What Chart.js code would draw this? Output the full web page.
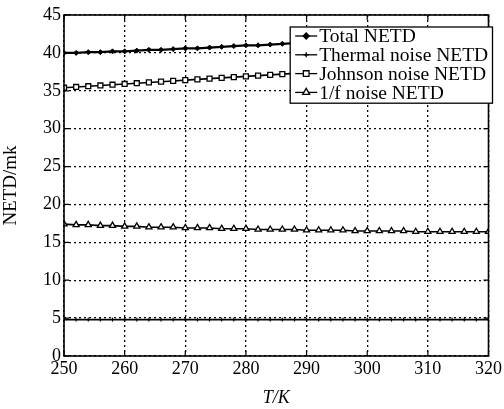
<!DOCTYPE html>
<html>
<head>
<meta charset="utf-8">
<script src="https://cdn.jsdelivr.net/npm/chart.js@4/dist/chart.umd.min.js"></script>
<style>
  html, body { margin: 0; padding: 0; background: #fff; }
  #wrap { width: 504px; height: 409px; }
</style>
</head>
<body>
<div id="wrap"><canvas id="netdChart" width="504" height="409"></canvas></div>
<script>
// temperature samples (K)
const temps = [250, 252, 254, 256, 258, 260, 262, 264, 266, 268, 270, 272,
    274, 276, 278, 280, 282, 284, 286, 288, 290, 292, 294, 296,
    298, 300, 302, 304, 306, 308, 310, 312, 314, 316, 318, 320];

// NETD values (mK)
const totalNetd = [40.0, 40.0, 40.1, 40.1, 40.2, 40.2, 40.3, 40.4, 40.4, 40.5, 40.6, 40.6,
    40.7, 40.8, 40.9, 41.0, 41.0, 41.1, 41.2, 41.3, 41.4, 41.5, 41.6, 41.7,
    41.8, 41.9, 42.0, 42.1, 42.2, 42.3, 42.4, 42.5, 42.6, 42.7, 42.8, 42.9];
const thermalNetd = [4.8, 4.8, 4.8, 4.8, 4.8, 4.8, 4.8, 4.8, 4.8, 4.8, 4.8, 4.8,
    4.8, 4.8, 4.8, 4.8, 4.8, 4.8, 4.8, 4.8, 4.8, 4.8, 4.8, 4.8,
    4.8, 4.8, 4.8, 4.8, 4.8, 4.8, 4.8, 4.8, 4.8, 4.8, 4.8, 4.8];
const johnsonNetd = [35.4, 35.5, 35.6, 35.7, 35.8, 35.9, 36.0, 36.1, 36.2, 36.3, 36.4, 36.5,
    36.6, 36.7, 36.8, 36.9, 37.0, 37.1, 37.2, 37.3, 37.4, 37.5, 37.6, 37.7,
    37.8, 37.9, 37.9, 38.0, 38.1, 38.2, 38.3, 38.4, 38.5, 38.5, 38.6, 38.7];
const flickerNetd = [17.4, 17.3, 17.3, 17.2, 17.2, 17.1, 17.1, 17.0, 17.0, 17.0, 16.9, 16.9,
    16.9, 16.8, 16.8, 16.8, 16.7, 16.7, 16.7, 16.7, 16.6, 16.6, 16.6, 16.6,
    16.5, 16.5, 16.5, 16.5, 16.5, 16.4, 16.4, 16.4, 16.4, 16.4, 16.4, 16.4];

const seriesLabels = ['Total NETD', 'Thermal noise NETD', 'Johnson noise NETD', '1/f noise NETD'];

const serif = '"Liberation Serif", "DejaVu Serif", serif';

function toPoints(values) {
    return temps.map((t, i) => ({ x: t, y: values[i] }));
}

// frame, inner ticks and the boxed legend
const framePlugin = {
    id: 'frame',
    afterDatasetsDraw(chart) {
        const ctx = chart.ctx;
        const area = chart.chartArea;
        const xs = chart.scales.x;
        const ys = chart.scales.y;
        ctx.save();
        ctx.strokeStyle = '#000';
        ctx.lineWidth = 1.6;
        ctx.strokeRect(area.left, area.top, area.right - area.left, area.bottom - area.top);

        ctx.lineWidth = 1.2;
        ctx.beginPath();
        xs.ticks.forEach(t => {
            const px = xs.getPixelForValue(t.value);
            ctx.moveTo(px, area.bottom); ctx.lineTo(px, area.bottom - 5);
            ctx.moveTo(px, area.top); ctx.lineTo(px, area.top + 5);
        });
        ys.ticks.forEach(t => {
            const py = ys.getPixelForValue(t.value);
            ctx.moveTo(area.left, py); ctx.lineTo(area.left + 5, py);
            ctx.moveTo(area.right, py); ctx.lineTo(area.right - 5, py);
        });
        ctx.stroke();

        // legend box
        const boxX = xs.getPixelForValue(287.3);
        const boxY = area.top + 12;
        const boxW = area.right + 4 - boxX;
        const rowH = 18.8;
        const boxH = rowH * seriesLabels.length + 1;
        ctx.fillStyle = '#fff';
        ctx.fillRect(boxX, boxY, boxW, boxH);
        ctx.lineWidth = 1.3;
        ctx.strokeRect(boxX, boxY, boxW, boxH);

        ctx.font = '19.5px ' + serif;
        ctx.textBaseline = 'middle';
        ctx.textAlign = 'left';
        chart.data.datasets.forEach((ds, i) => {
            const cy = boxY + 9 + i * rowH;
            ctx.strokeStyle = '#000';
            ctx.lineWidth = 1.3;
            ctx.beginPath();
            ctx.moveTo(boxX + 5, cy); ctx.lineTo(boxX + 27, cy);
            ctx.stroke();
            ctx.fillStyle = ds.backgroundColor;
            Chart.helpers.drawPoint(ctx, {
                pointStyle: ds.pointStyle,
                radius: ds.pointRadius + 0.5,
                borderWidth: 1.3
            }, boxX + 16, cy);
            ctx.fillStyle = '#000';
            ctx.fillText(ds.label, boxX + 29, cy + 1);
        });
        ctx.restore();
    }
};

const ctx = document.getElementById('netdChart').getContext('2d');
new Chart(ctx, {
    type: 'line',
    data: {
        datasets: [{
            label: seriesLabels[0],
            data: toPoints(totalNetd),
            borderColor: '#000',
            backgroundColor: '#000',
            borderWidth: 2.2,
            pointStyle: 'rectRot',
            pointRadius: 2.5,
            pointBorderWidth: 1
        }, {
            label: seriesLabels[1],
            data: toPoints(thermalNetd),
            borderColor: '#000',
            backgroundColor: '#000',
            borderWidth: 1.6,
            pointStyle: 'cross',
            pointRadius: 2,
            pointBorderWidth: 1
        }, {
            label: seriesLabels[2],
            data: toPoints(johnsonNetd),
            borderColor: '#000',
            backgroundColor: '#fff',
            borderWidth: 1.6,
            pointStyle: 'rect',
            pointRadius: 3.5,
            pointBorderWidth: 1.3
        }, {
            label: seriesLabels[3],
            data: toPoints(flickerNetd),
            borderColor: '#000',
            backgroundColor: '#fff',
            borderWidth: 1.6,
            pointStyle: 'triangle',
            pointRadius: 3.5,
            pointBorderWidth: 1.3
        }]
    },
    options: {
        responsive: false,
        animation: false,
        layout: { padding: { top: 15, right: 12, left: 0, bottom: 0 } },
        plugins: {
            legend: { display: false },
            tooltip: { enabled: false }
        },
        scales: {
            x: {
                type: 'linear',
                min: 250,
                max: 320,
                ticks: {
                    stepSize: 10,
                    color: '#000',
                    padding: 2,
                    font: { family: serif, size: 18 }
                },
                grid: { color: '#000', lineWidth: 1.3, drawTicks: false },
                border: { display: false, dash: [2, 3] },
                title: {
                    display: true,
                    text: 'T/K',
                    color: '#000',
                    padding: { top: 2, bottom: 0 },
                    font: { family: serif, size: 18, style: 'italic' }
                },
                afterFit(scale) { scale.height = 53; }
            },
            y: {
                min: 0,
                max: 45,
                ticks: {
                    stepSize: 5,
                    color: '#000',
                    padding: 3,
                    font: { family: serif, size: 18 }
                },
                grid: { color: '#000', lineWidth: 1.3, drawTicks: false },
                border: { display: false, dash: [2, 3] },
                title: {
                    display: true,
                    text: 'NETD/mk',
                    color: '#000',
                    padding: { top: 0, bottom: 2 },
                    font: { family: serif, size: 19 }
                },
                afterFit(scale) { scale.width = 64; }
            }
        }
    },
    plugins: [framePlugin]
});
</script>
</body>
</html>
